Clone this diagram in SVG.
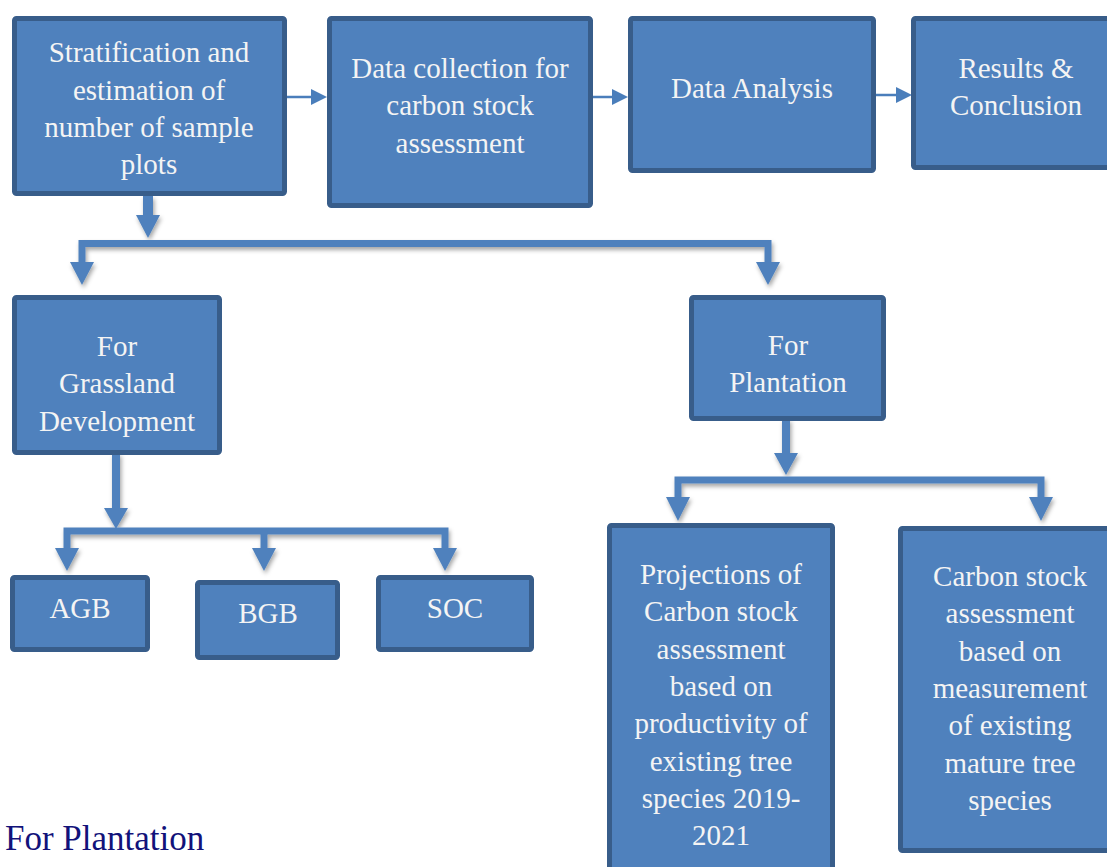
<svg xmlns="http://www.w3.org/2000/svg" width="1107" height="867" viewBox="0 0 1107 867">
<defs>
<style>
.box{fill:#4f81bd;stroke:#385d8a;stroke-width:5;}
.t{font-family:"Liberation Serif","Times New Roman",serif;font-size:29px;fill:#f4f4f4;text-anchor:middle;}
.thin{stroke:#4a7ebb;stroke-width:2.5;fill:none;}
.head{fill:#4a7ebb;}
.blk{fill:#4f81bd;}
.bar{stroke:#4f81bd;fill:none;stroke-linejoin:miter;}
.cap{font-family:"Liberation Serif","Times New Roman",serif;font-size:35px;fill:#12127a;}
</style>
<filter id="sh" x="-20%" y="-20%" width="140%" height="160%">
<feDropShadow dx="1.5" dy="3" stdDeviation="2" flood-color="#000" flood-opacity="0.35"/>
</filter>
</defs>
<rect width="1107" height="867" fill="#fff"/>

<g id="connectors">
<line class="thin" x1="287" y1="97" x2="312" y2="97"/>
<polygon class="head" points="311,89 327,97 311,105"/>
<line class="thin" x1="593" y1="97" x2="614" y2="97"/>
<polygon class="head" points="612,89 628,97 612,105"/>
<line class="thin" x1="876" y1="95" x2="898" y2="95"/>
<polygon class="head" points="896,87 912,95 896,103"/>

<g filter="url(#sh)">
<rect class="blk" x="143" y="196" width="10" height="20"/>
<polygon class="blk" points="136,215 160,215 148,238"/>
<polyline class="bar" stroke-width="7" points="82,263 82,243.5 768,243.5 768,263"/>
<polygon class="blk" points="70,262 94,262 82,285"/>
<polygon class="blk" points="756,262 780,262 768,285"/>

<rect class="blk" x="112" y="453" width="8" height="56"/>
<polygon class="blk" points="104,508 128,508 116,529"/>
<polyline class="bar" stroke-width="7" points="67,550 67,531 445,531 445,550"/>
<rect class="blk" x="260.5" y="531" width="7" height="18"/>
<polygon class="blk" points="55,548 79,548 67,571"/>
<polygon class="blk" points="252,548 276,548 264,571"/>
<polygon class="blk" points="433,548 457,548 445,571"/>

<rect class="blk" x="782" y="419" width="8" height="36"/>
<polygon class="blk" points="774,453 798,453 786,475"/>
<polyline class="bar" stroke-width="7" points="678,499 678,480 1041,480 1041,499"/>
<polygon class="blk" points="666,497 690,497 678,521"/>
<polygon class="blk" points="1029,497 1053,497 1041,521"/>
</g>
</g>

<g id="n1"><rect class="box" x="14.5" y="18.5" width="270" height="175" rx="2"/>
<text class="t" x="149" y="62">Stratification and</text>
<text class="t" x="149" y="99.5">estimation of</text>
<text class="t" x="149" y="137">number of sample</text>
<text class="t" x="149" y="174">plots</text></g>

<g id="n2"><rect class="box" x="329.5" y="18.5" width="261" height="187" rx="2"/>
<text class="t" x="460" y="78">Data collection for</text>
<text class="t" x="460" y="115">carbon stock</text>
<text class="t" x="460" y="152.5">assessment</text></g>

<g id="n3"><rect class="box" x="630.5" y="18.5" width="243" height="152" rx="2"/>
<text class="t" x="752" y="98">Data Analysis</text></g>

<g id="n4"><rect class="box" x="913.5" y="18.5" width="200" height="149" rx="2"/>
<text class="t" x="1016" y="78">Results &amp;</text>
<text class="t" x="1016" y="115">Conclusion</text></g>

<g id="n5"><rect class="box" x="14.5" y="297.5" width="205" height="155" rx="2"/>
<text class="t" x="117" y="356">For</text>
<text class="t" x="117" y="393">Grassland</text>
<text class="t" x="117" y="431">Development</text></g>

<g id="n6"><rect class="box" x="691.5" y="297.5" width="192" height="121" rx="2"/>
<text class="t" x="788" y="355">For</text>
<text class="t" x="788" y="392">Plantation</text></g>

<g id="n7"><rect class="box" x="12.5" y="577.5" width="135" height="72" rx="2"/>
<text class="t" x="80" y="618">AGB</text></g>

<g id="n8"><rect class="box" x="197.5" y="582.5" width="140" height="75" rx="2"/>
<text class="t" x="268" y="623">BGB</text></g>

<g id="n9"><rect class="box" x="378.5" y="577.5" width="153" height="72" rx="2"/>
<text class="t" x="455" y="618">SOC</text></g>

<g id="n10"><rect class="box" x="609.5" y="525.5" width="223" height="350" rx="2"/>
<text class="t" x="721" y="584">Projections of</text>
<text class="t" x="721" y="621">Carbon stock</text>
<text class="t" x="721" y="659">assessment</text>
<text class="t" x="721" y="696">based on</text>
<text class="t" x="721" y="733">productivity of</text>
<text class="t" x="721" y="771">existing tree</text>
<text class="t" x="721" y="808">species 2019-</text>
<text class="t" x="721" y="845">2021</text></g>

<g id="n11"><rect class="box" x="900.5" y="528.5" width="215" height="322" rx="2"/>
<text class="t" x="1010" y="586">Carbon stock</text>
<text class="t" x="1010" y="623">assessment</text>
<text class="t" x="1010" y="661">based on</text>
<text class="t" x="1010" y="698">measurement</text>
<text class="t" x="1010" y="735">of existing</text>
<text class="t" x="1010" y="773">mature tree</text>
<text class="t" x="1010" y="810">species</text></g>

<text class="cap" x="5" y="850">For Plantation</text>
</svg>
